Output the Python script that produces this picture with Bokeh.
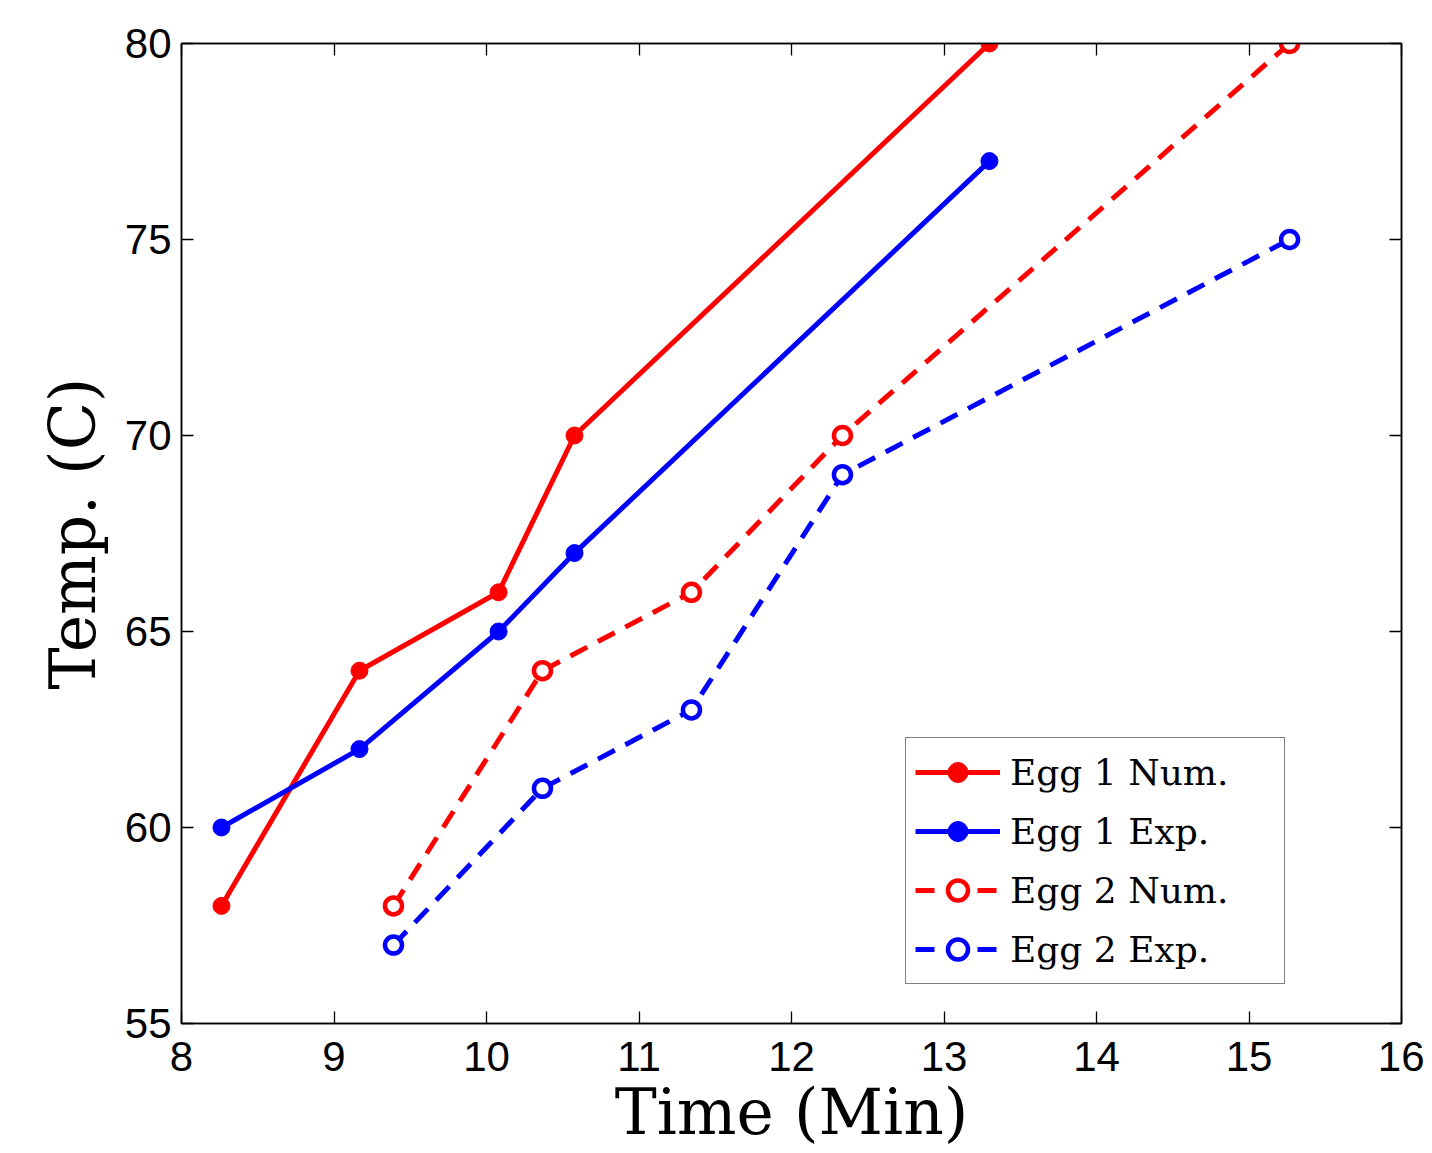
from bokeh.plotting import figure
from bokeh.models import LinearAxis, FixedTicker, Range1d, Legend
from bokeh.embed import file_html
from bokeh.resources import INLINE

# Data
egg1_time = [8.262, 9.167, 10.079, 10.577, 13.298]
egg1_num = [58, 64, 66, 70, 80]
egg1_exp = [60, 62, 65, 67, 77]
egg2_time = [9.390, 10.367, 11.344, 12.334, 15.266]
egg2_num = [58, 64, 66, 70, 80]
egg2_exp = [57, 61, 63, 69, 75]
x_ticks = [8, 9, 10, 11, 12, 13, 14, 15, 16]
y_ticks = [55, 60, 65, 70, 75, 80]

RED = "#FF0000"
BLUE = "#0000FF"

p = figure(frame_width=1220, frame_height=980, output_backend="svg", toolbar_location=None,
           x_range=Range1d(8, 16), y_range=Range1d(55, 80),
           min_border_left=181, min_border_top=43, min_border_right=23, min_border_bottom=110)
p.xgrid.visible = False
p.ygrid.visible = False
p.outline_line_color = "black"
p.outline_line_width = 1.5
p.background_fill_color = "white"
p.border_fill_color = "white"

def style_axis(ax, ticks):
    ax.ticker = FixedTicker(ticks=ticks)
    ax.major_tick_in = 12
    ax.major_tick_out = 0
    ax.minor_tick_in = 0
    ax.minor_tick_out = 0
    ax.major_tick_line_width = 1.3
    ax.axis_line_width = 1.5
    ax.axis_line_color = "black"
    ax.major_tick_line_color = "black"
    ax.major_label_text_font = "Liberation Sans"
    ax.major_label_text_font_size = "42px"
    ax.major_label_text_color = "black"

def style_mirror(ax, ticks):
    # ticks only (as minor ticks), no labels
    ax.ticker = FixedTicker(ticks=[], minor_ticks=ticks)
    ax.major_tick_in = 0
    ax.major_tick_out = 0
    ax.minor_tick_in = 12
    ax.minor_tick_out = 0
    ax.minor_tick_line_width = 1.3
    ax.minor_tick_line_color = "black"
    ax.axis_line_width = 1.5
    ax.axis_line_color = "black"

style_axis(p.xaxis[0], x_ticks)
style_axis(p.yaxis[0], y_ticks)
p.xaxis[0].major_label_standoff = 18
p.yaxis[0].major_label_standoff = 10

p.xaxis[0].axis_label = "Time (Min)"
p.yaxis[0].axis_label = "Temp. (C)"
for ax in (p.xaxis[0], p.yaxis[0]):
    ax.axis_label_text_font = "DejaVu Serif"
    ax.axis_label_text_font_size = "63px"
    ax.axis_label_text_font_style = "normal"
    ax.axis_label_text_color = "black"
p.xaxis[0].axis_label_standoff = 2
p.yaxis[0].axis_label_standoff = 12

rax = LinearAxis()
style_mirror(rax, y_ticks)
p.add_layout(rax, "right")
tax = LinearAxis()
style_mirror(tax, x_ticks)
p.add_layout(tax, "above")

# Egg 1 Num.
r1l = p.line(egg1_time, egg1_num, line_color=RED, line_width=5)
r1m = p.scatter(egg1_time, egg1_num, marker="circle", size=17, fill_color=RED, line_color=RED)
# Egg 1 Exp.
r2l = p.line(egg1_time, egg1_exp, line_color=BLUE, line_width=5)
r2m = p.scatter(egg1_time, egg1_exp, marker="circle", size=17, fill_color=BLUE, line_color=BLUE)
# Egg 2 Num.
r3l = p.line(egg2_time, egg2_num, line_color=RED, line_width=5, line_dash="19 12")
r3m = p.scatter(egg2_time, egg2_num, marker="circle", size=17, fill_color="white", line_color=RED, line_width=4.5)
# Egg 2 Exp.
r4l = p.line(egg2_time, egg2_exp, line_color=BLUE, line_width=5, line_dash="19 12")
r4m = p.scatter(egg2_time, egg2_exp, marker="circle", size=17, fill_color="white", line_color=BLUE, line_width=4.5)

legend = Legend(items=[("Egg 1 Num.", [r1l, r1m]), ("Egg 1 Exp.", [r2l, r2m]),
                       ("Egg 2 Num.", [r3l, r3m]), ("Egg 2 Exp.", [r4l, r4m])],
                location=(724, 39))
legend.label_text_font = "DejaVu Serif"
legend.label_text_font_size = "36px"
legend.label_text_color = "black"
legend.glyph_width = 85
legend.glyph_height = 50
legend.label_height = 50
legend.label_standoff = 10
legend.label_width = 265
legend.spacing = 9
legend.padding = 9
legend.margin = 0
legend.border_line_color = "black"
legend.border_line_width = 1.5
legend.background_fill_color = "white"
legend.background_fill_alpha = 1
p.add_layout(legend, "center")

open("out.html", "w").write(file_html(p, INLINE))
